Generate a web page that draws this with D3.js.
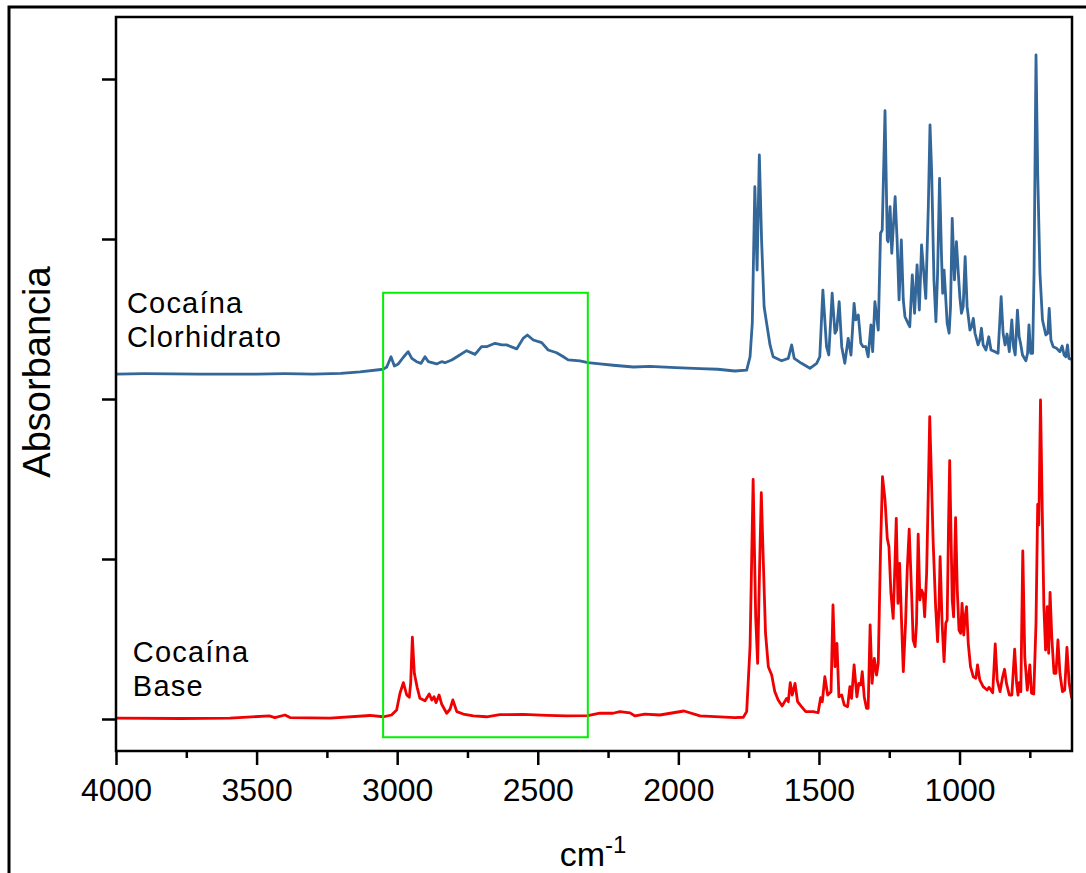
<!DOCTYPE html>
<html>
<head>
<meta charset="utf-8">
<script src="https://cdn.jsdelivr.net/npm/d3@7"></script>
<style>
  html, body { margin: 0; padding: 0; background: #fff; }
  svg { display: block; font-family: "Liberation Sans", Arial, sans-serif; }
</style>
</head>
<body>
<svg id="chart" width="1086" height="873"></svg>
<script>
// ---------- DATA ----------
const xTickLabels = [4000, 3500, 3000, 2500, 2000, 1500, 1000];
const xMinorTicks = [3750, 3250, 2750, 2250, 1750, 1250, 750];
const yTicks = [0, 1, 2, 3, 4];
const seriesNames = ["Cocaína Clorhidrato", "Cocaína Base"];

// Cocaína Clorhidrato (blue) : wavenumber (cm-1) and absorbance
const clorhWn = [4000,3900,3800,3701,3600,3500,3400,3346,3300,3200,3132,3050,3037,3022,3010,2996,2978,2961,2948,2931,2915,2901,2889,2860,2842,2830,2806,2783,2753,2723,2700,2682,2652,2628,2611,2575,2552,2537,2516,2486,2463,2433,2409,2392,2350,2322,2279,2232,2160,2101,2010,1923,1860,1799,1757,1745,1737,1728,1720,1712,1704,1695,1686,1674,1663,1633,1609,1597,1588,1562,1532,1508,1497,1486,1473,1465,1453,1443,1437,1428,1419,1408,1396,1386,1375,1369,1360,1351,1343,1333,1325,1315,1309,1301,1289,1281,1275,1265,1257,1254,1247,1241,1229,1222,1215,1207,1200,1194,1183,1177,1168,1160,1151,1143,1135,1127,1120,1111,1105,1099,1091,1084,1078,1071,1064,1060,1055,1050,1044,1037,1032,1026,1018,1011,1005,999,993,987,980,973,963,957,951,945,934,928,922,916,906,896,888,874,863,852,845,838,831,823,814,808,802,794,788,783,776,764,758,753,747,740,735,728,722,714,705,693,686,681,675,667,655,643,635,628,622,616,611,601];
const clorhAbs = [2.156,2.158,2.157,2.156,2.155,2.156,2.158,2.157,2.155,2.16,2.17,2.186,2.2,2.264,2.206,2.219,2.261,2.296,2.254,2.233,2.223,2.264,2.233,2.219,2.233,2.227,2.244,2.269,2.302,2.279,2.327,2.327,2.348,2.338,2.338,2.313,2.379,2.4,2.369,2.352,2.306,2.289,2.264,2.244,2.238,2.227,2.219,2.211,2.2,2.204,2.196,2.19,2.186,2.175,2.181,2.264,2.475,3.327,2.806,3.525,2.994,2.577,2.473,2.338,2.264,2.239,2.254,2.338,2.254,2.223,2.192,2.223,2.264,2.681,2.327,2.275,2.661,2.411,2.431,2.608,2.327,2.223,2.379,2.275,2.598,2.494,2.525,2.348,2.327,2.327,2.264,2.463,2.296,2.608,2.431,3.036,3.056,3.802,2.994,2.983,3.202,2.911,3.264,2.994,2.619,2.994,2.619,2.514,2.473,2.452,2.775,2.536,2.838,2.556,2.963,2.786,2.629,3.202,3.713,3.411,2.744,2.483,2.786,3.379,2.889,2.661,2.806,2.661,2.473,2.411,2.577,3.129,2.744,2.983,2.806,2.639,2.536,2.577,2.889,2.577,2.431,2.452,2.504,2.411,2.338,2.369,2.442,2.338,2.306,2.389,2.306,2.296,2.286,2.639,2.411,2.338,2.406,2.296,2.494,2.327,2.275,2.556,2.389,2.348,2.275,2.239,2.286,2.463,2.286,2.286,2.786,4.15,3.411,2.786,2.494,2.4,2.411,2.567,2.369,2.327,2.317,2.296,2.331,2.275,2.264,2.338,2.254,2.248];

// Cocaína Base (red) : wavenumber (cm-1) and absorbance
const baseWn = [4000,3772,3595,3455,3435,3399,3381,3239,3097,3050,3020,3002,2990,2978,2966,2957,2952,2946,2939,2929,2919,2901,2886,2877,2869,2862,2851,2842,2824,2812,2802,2788,2765,2729,2682,2635,2552,2468,2397,2322,2279,2232,2208,2172,2154,2119,2066,1980,1923,1852,1799,1769,1757,1745,1734,1725,1718,1711,1705,1698,1690,1680,1668,1657,1645,1631,1615,1609,1602,1595,1585,1576,1562,1547,1520,1503,1494,1488,1479,1469,1457,1450,1443,1436,1429,1419,1410,1398,1390,1384,1375,1365,1358,1351,1346,1339,1331,1325,1318,1311,1303,1295,1289,1281,1274,1265,1257,1251,1244,1236,1230,1225,1219,1213,1206,1200,1192,1186,1179,1170,1165,1158,1153,1147,1141,1135,1129,1124,1117,1111,1106,1102,1094,1085,1078,1073,1069,1062,1055,1049,1044,1039,1035,1031,1026,1021,1018,1014,1008,1002,996,991,985,980,975,969,961,951,942,936,928,916,902,895,882,873,866,856,847,840,833,823,814,804,797,792,788,782,775,768,759,750,744,736,728,722,718,712,706,700,694,688,683,678,672,664,657,650,643,634,626,618,610,601];
const baseAbs = [0.006,0.003,0.006,0.019,0.009,0.025,0.009,0.006,0.022,0.014,0.025,0.056,0.161,0.227,0.15,0.136,0.223,0.511,0.286,0.198,0.129,0.114,0.156,0.119,0.139,0.102,0.15,0.094,0.036,0.061,0.119,0.046,0.031,0.019,0.014,0.027,0.029,0.023,0.019,0.021,0.036,0.036,0.046,0.038,0.019,0.031,0.025,0.05,0.019,0.013,0.008,0.011,0.046,0.452,1.498,0.639,0.348,0.952,1.414,0.994,0.536,0.327,0.275,0.171,0.119,0.081,0.129,0.108,0.227,0.15,0.223,0.108,0.077,0.046,0.046,0.039,0.133,0.108,0.264,0.15,0.171,0.713,0.327,0.473,0.139,0.15,0.088,0.077,0.202,0.129,0.338,0.139,0.223,0.213,0.296,0.139,0.067,0.067,0.588,0.223,0.379,0.275,0.348,1.056,1.514,1.369,1.129,1.077,0.786,0.629,0.952,1.254,0.723,0.973,0.598,0.296,0.598,0.931,1.186,0.764,0.494,0.452,0.598,1.156,0.744,0.806,0.781,0.639,0.911,1.431,1.889,1.639,1.119,0.702,0.483,0.702,1.014,0.598,0.358,0.598,0.619,1.223,1.614,1.223,0.744,0.639,0.952,1.258,0.806,0.556,0.536,0.723,0.525,0.639,0.702,0.473,0.327,0.264,0.254,0.338,0.244,0.202,0.181,0.198,0.164,0.469,0.244,0.171,0.261,0.311,0.223,0.15,0.15,0.436,0.223,0.15,0.227,0.171,1.05,0.389,0.181,0.338,0.161,0.156,0.598,1.342,1.213,1.994,1.327,0.702,0.431,0.702,0.411,0.792,0.514,0.286,0.286,0.494,0.286,0.171,0.181,0.448,0.223,0.129];

// highlighted region (green box) in data units
const boxWn = [3050, 2322];
const boxAbs = [2.664, -0.114];

// ---------- CHART ----------
const svg = d3.select("#chart");
const M = { left: 116, right: 1072, top: 17, bottom: 751 };

const x = d3.scaleLinear().domain([4000, 600]).range([M.left, M.right]);
const y = d3.scaleLinear().domain([-0.2, 4.3875]).range([M.bottom, M.top]);

// outer frame (extends beyond the picture on right and bottom)
svg.append("rect").attr("x", 9).attr("y", 7).attr("width", 1200).attr("height", 1000)
  .attr("fill", "none").attr("stroke", "#000").attr("stroke-width", 3);

const fontFam = '"Liberation Sans", Arial, sans-serif';

const line = d3.line().x(d => x(d[0])).y(d => y(d[1]));

const clorh = clorhWn.map((w, i) => [w, clorhAbs[i]]);
const base = baseWn.map((w, i) => [w, baseAbs[i]]);

svg.append("path").datum(clorh).attr("d", line)
  .attr("fill", "none").attr("stroke", "#336699").attr("stroke-width", 2.8)
  .attr("stroke-linejoin", "round");
svg.append("path").datum(base).attr("d", line)
  .attr("fill", "none").attr("stroke", "#f00000").attr("stroke-width", 2.8)
  .attr("stroke-linejoin", "round");

// green box
svg.append("rect")
  .attr("x", x(boxWn[0])).attr("y", y(boxAbs[0]))
  .attr("width", x(boxWn[1]) - x(boxWn[0]))
  .attr("height", y(boxAbs[1]) - y(boxAbs[0]))
  .attr("fill", "none").attr("stroke", "#00f000").attr("stroke-width", 2);

// plot frame
svg.append("rect").attr("x", M.left).attr("y", M.top)
  .attr("width", M.right - M.left).attr("height", M.bottom - M.top)
  .attr("fill", "none").attr("stroke", "#000").attr("stroke-width", 2.5);

// x axis major
const xAxis = svg.append("g").attr("transform", `translate(0,${M.bottom})`)
  .call(d3.axisBottom(x).tickValues(xTickLabels).tickSize(14).tickSizeOuter(0).tickFormat(d3.format("d")));
xAxis.select(".domain").remove();
xAxis.selectAll(".tick line").attr("stroke", "#000").attr("stroke-width", 2.5);
xAxis.selectAll(".tick text").attr("font-family", fontFam).attr("font-size", 32)
  .attr("fill", "#000").attr("y", 27);

// x axis minor
const xMinor = svg.append("g").attr("transform", `translate(0,${M.bottom})`)
  .call(d3.axisBottom(x).tickValues(xMinorTicks).tickSize(7).tickSizeOuter(0).tickFormat(""));
xMinor.select(".domain").remove();
xMinor.selectAll(".tick line").attr("stroke", "#000").attr("stroke-width", 2.5);

// y axis ticks (no labels)
const yAxis = svg.append("g").attr("transform", `translate(${M.left},0)`)
  .call(d3.axisLeft(y).tickValues(yTicks).tickSize(14).tickSizeOuter(0).tickFormat(""));
yAxis.select(".domain").remove();
yAxis.selectAll(".tick line").attr("stroke", "#000").attr("stroke-width", 2.5);

// axis titles
svg.append("text").attr("transform", "translate(50,372) rotate(-90)")
  .attr("text-anchor", "middle").attr("font-family", fontFam).attr("font-size", 38)
  .attr("fill", "#000").text("Absorbancia");

const xt = svg.append("text").attr("x", 593).attr("y", 866)
  .attr("text-anchor", "middle").attr("font-family", fontFam).attr("font-size", 34).attr("fill", "#000");
xt.append("tspan").text("cm");
xt.append("tspan").attr("dy", -13).attr("font-size", 24).text("-1");

// series labels
const lab1 = svg.append("text").attr("font-family", fontFam).attr("font-size", 29)
  .attr("letter-spacing", 1.2).attr("fill", "#000");
lab1.append("tspan").attr("x", x(3961)).attr("y", y(2.5375)).text("Cocaína");
lab1.append("tspan").attr("x", x(3961)).attr("y", y(2.325)).text("Clorhidrato");

const lab2 = svg.append("text").attr("font-family", fontFam).attr("font-size", 29)
  .attr("letter-spacing", 1.2).attr("fill", "#000");
lab2.append("tspan").attr("x", x(3940)).attr("y", y(0.356)).text("Cocaína");
lab2.append("tspan").attr("x", x(3940)).attr("y", y(0.144)).text("Base");
</script>
</body>
</html>
